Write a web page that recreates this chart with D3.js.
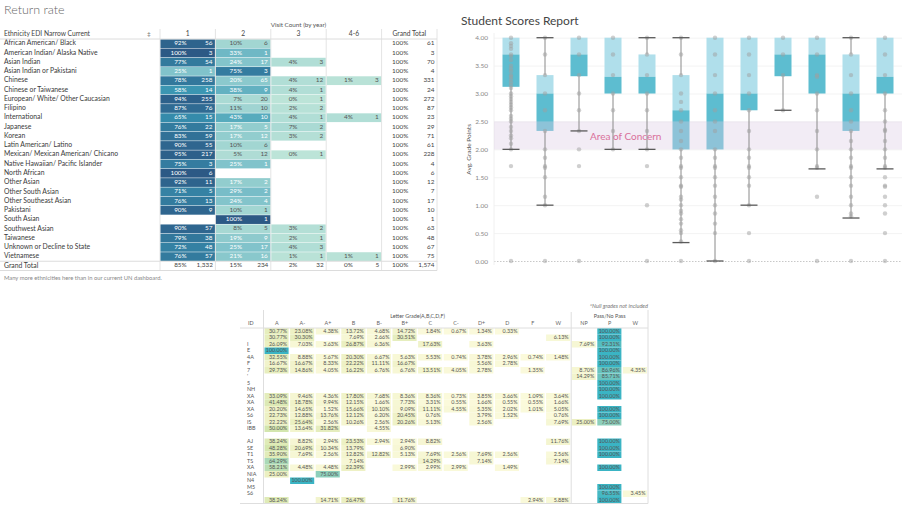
<!DOCTYPE html>
<html>
<head>
<meta charset="utf-8">
<script src="https://cdn.jsdelivr.net/npm/d3@7"></script>
<style>
  body { margin: 0; background: #fff; }
  text { font-family: Lato, "Open Sans", sans-serif; }
</style>
</head>
<body>
<svg id="chart" width="905" height="505"></svg>
<script>
// ---------- Return rate table data ----------
var ethnicities = ["African American/ Black", "American Indian/ Alaska Native", "Asian Indian",
  "Asian Indian or Pakistani", "Chinese", "Chinese or Taiwanese", "European/ White/ Other Caucasian",
  "Filipino", "International", "Japanese", "Korean", "Latin American/ Latino",
  "Mexican/ Mexican American/ Chicano", "Native Hawaiian/ Pacific Islander", "North African",
  "Other Asian", "Other South Asian", "Other Southeast Asian", "Pakistani", "South Asian",
  "Southwest Asian", "Taiwanese", "Unknown or Decline to State", "Vietnamese"];
var visitCols = ["1", "2", "3", "4-6"];
var pct1 = [92, 100, 77, 25, 78, 58, 94, 87, 65, 76, 83, 90, 95, 75, 100, 92, 71, 76, 90, null, 90, 79, 72, 76];
var cnt1 = [56, 3, 54, 1, 258, 14, 255, 76, 15, 22, 59, 55, 217, 3, 6, 11, 5, 13, 9, null, 57, 38, 48, 57];
var pct2 = [10, 33, 24, 75, 20, 38, 7, 11, 43, 17, 17, 10, 5, 25, null, 17, 29, 24, 10, 100, 8, 19, 25, 21];
var cnt2 = [6, 1, 17, 3, 65, 9, 20, 10, 10, 5, 12, 6, 12, 1, null, 2, 2, 4, 1, 1, 5, 9, 17, 16];
var pct3 = [null, null, 4, null, 4, 4, 0, 2, 4, 7, 3, null, 0, null, null, null, null, null, null, null, 3, 2, 4, 1];
var cnt3 = [null, null, 3, null, 12, 1, 1, 2, 1, 2, 2, null, 1, null, null, null, null, null, null, null, 2, 1, 3, 1];
var pct4 = [null, null, null, null, 1, null, null, null, 4, null, null, null, null, null, null, null, null, null, null, null, null, null, null, 1];
var cnt4 = [null, null, null, null, 3, null, null, null, 1, null, null, null, null, null, null, null, null, null, null, null, null, null, null, 1];
var rowTotals = [61, 3, 70, 4, 331, 24, 272, 87, 23, 29, 71, 61, 228, 4, 6, 12, 7, 17, 10, 1, 63, 48, 67, 75];
var grandPct = [85, 15, 2, 0];
var grandCnt = [1332, 234, 32, 5];
var grandTotal = 1574;

// ---------- Student scores box plot data ----------
var boxQ1  = [3.12, 2.33, 3.31, 3.0, 3.0, 2.0, 2.0, 2.7, 3.31, 3.0, 2.33, 3.0];
var boxMed = [3.7, 3.0, 3.7, 3.3, 3.3, 2.7, 3.0, 3.0, 3.7, 3.7, 3.0, 3.3];
var boxQ3  = [4.0, 3.33, 4.0, 4.0, 3.7, 3.33, 4.0, 4.0, 4.0, 4.0, 3.7, 4.0];
var whiskLo = [2.0, 1.0, 2.33, 2.0, 2.0, 0.33, 0.0, 1.0, 2.7, 1.65, 0.77, 1.65];
var whiskHi = [4.0, 4.0, 4.0, 4.0, 4.0, 4.0, 4.0, 4.0, 4.0, 4.0, 4.0, 4.0];
var boxDots = [
  [4.0, 3.9, 3.85, 3.8, 3.7, 3.67, 3.6, 3.5, 3.45, 3.4, 3.33, 3.3, 3.25, 3.2, 3.15, 3.1, 3.0, 2.95, 2.9, 2.85, 2.8, 2.75, 2.7, 2.6, 2.55, 2.5, 2.4, 2.33, 2.25, 2.2, 2.1, 2.0, 1.7, 0.0],
  [4.0, 3.7, 3.33, 3.0, 2.7, 2.33, 2.0, 1.85, 1.7, 1.67, 1.5, 1.15, 1.0, 0.0],
  [4.0, 3.7, 3.33, 3.0, 2.7, 2.33, 2.0, 1.7, 0.0],
  [4.0, 3.7, 3.33, 3.0, 2.7, 2.33, 2.0],
  [4.0, 3.7, 3.33, 3.0, 2.7, 2.33, 2.0, 1.7, 1.0, 0.0],
  [4.0, 3.7, 3.33, 3.0, 2.85, 2.7, 2.5, 2.33, 2.15, 2.0, 1.85, 1.7, 1.67, 1.5, 1.35, 1.33, 1.15, 1.1, 1.0, 0.9, 0.85, 0.75, 0.67, 0.55, 0.5, 0.35, 0.0],
  [4.0, 3.7, 3.33, 3.0, 2.7, 2.5, 2.33, 2.0, 1.85, 1.7, 1.67, 1.5, 1.35, 1.15, 1.0, 0.85, 0.67, 0.5, 0.0],
  [4.0, 3.7, 3.33, 3.0, 2.7, 2.33, 2.0, 1.85, 1.7, 1.67, 1.5, 1.35, 1.0, 0.5, 0.0],
  [4.0, 3.7, 3.33, 2.7],
  [4.0, 3.7, 3.33, 3.3, 3.0, 2.7, 2.33, 2.0, 1.7, 1.67, 1.15, 0.0],
  [4.0, 3.7, 3.33, 3.0, 2.7, 2.5, 2.33, 2.15, 2.0, 1.85, 1.7, 1.67, 1.5, 1.35, 1.15, 1.0, 0.85, 0.8, 0.0],
  [4.0, 3.7, 3.33, 3.0, 2.7, 2.5, 2.35, 2.33, 2.15, 2.0, 1.85, 1.7, 1.67, 1.5, 1.35, 1.33, 1.15, 1.0, 0.85, 0.5, 0.0]
];
var yTicks = [0, 0.5, 1, 1.5, 2, 2.5, 3, 3.5, 4];

// ---------- Letter grade table data ----------
var letterCols = ["A", "A-", "A+", "B", "B-", "B+", "C", "C-", "D+", "D", "F", "W"];
var passCols = ["NP", "P", "W"];
var gradeIds = ["", "", "I", "E", "4A", "F", "7", "'", "5", "NH", "XA", "XA", "XA", "S6", "IS", "IBB", "",
  "AJ", "SE", "T1", "TS", "XA", "NIA", "N4", "M5", "S6", ""];
var letterPct = [
  [30.77, 23.08, 4.38, 13.72, 4.68, 14.72, 1.84, 0.67, 1.34, 0.33, null, null],
  [30.77, 30.30, null, 7.69, 2.66, 30.51, null, null, null, null, null, 6.13],
  [26.09, 7.03, 3.63, 26.87, 6.36, null, 17.63, null, 3.63, null, null, null],
  [100, null, null, null, null, null, null, null, null, null, null, null],
  [32.55, 8.88, 5.67, 20.30, 6.67, 5.63, 5.53, 0.74, 3.78, 2.96, 0.74, 1.48],
  [16.67, 16.67, 8.33, 22.22, 11.11, 16.67, null, null, 5.56, 2.78, null, null],
  [29.73, 14.86, 4.05, 16.22, 6.76, 6.76, 13.51, 4.05, 2.78, null, 1.35, null],
  [], [], [],
  [33.09, 9.46, 4.36, 17.80, 7.68, 8.36, 8.36, 0.73, 3.85, 3.66, 1.09, 3.64],
  [41.48, 18.78, 9.94, 12.15, 1.66, 7.73, 3.31, 0.55, 1.66, 0.55, 0.55, 1.66],
  [20.20, 14.65, 1.52, 15.66, 10.10, 9.09, 11.11, 4.55, 5.35, 2.02, 1.01, 5.05],
  [22.73, 12.88, 13.76, 12.12, 6.20, 20.45, 0.76, null, 3.79, 1.52, null, 0.76],
  [22.22, 25.64, 2.56, 10.26, 2.56, 20.26, 5.13, null, 2.56, null, null, 7.69],
  [50.00, 13.64, 31.82, null, 4.55, null, null, null, null, null, null, null],
  [],
  [38.24, 8.82, 2.94, 23.53, 2.94, 2.94, 8.82, null, null, null, null, 11.76],
  [48.28, 20.69, 10.34, 13.79, null, 6.90, null, null, null, null, null, null],
  [35.90, 7.69, 2.56, 12.82, 12.82, 5.13, 7.69, 2.56, 7.69, 2.56, null, 2.56],
  [64.29, null, null, 7.14, null, null, 14.29, null, 7.14, null, null, 7.14],
  [58.21, 4.48, 4.48, 22.39, null, 2.99, 2.99, 2.99, null, 1.49, null, null],
  [25.00, null, 75.00, null, null, null, null, null, null, null, null, null],
  [null, 100, null, null, null, null, null, null, null, null, null, null],
  [], [],
  [38.24, null, 14.71, 26.47, null, 11.76, null, null, null, null, 2.94, 5.88]
];
var passPct = [
  [null, 100, null], [null, 100, null], [7.69, 92.31, null], [null, 100, null], [null, 100, null],
  [null, 100, null], [8.70, 86.96, 4.35], [14.29, 85.71, null], [null, 100, null], [null, 100, null],
  [null, 100, null], [], [null, 100, null], [null, 100, null], [25.00, 75.00, null], [], [],
  [null, 100, null], [null, 100, null], [null, 100, null], [], [null, 100, null], [], [],
  [null, 100, null], [null, 96.55, 3.45], [null, 100, null]
];

var svg = d3.select("#chart");

// ================= Return rate table =================
svg.append("text").attr("x", 4).attr("y", 14).text("Return rate")
  .attr("font-size", "12.5px").attr("font-weight", 300).attr("fill", "#666");

var rowKeys = ethnicities.concat(["Grand Total"]);
var ty = d3.scaleBand().domain(rowKeys).range([39, 270.5]);
var gx = d3.scaleBand().domain(visitCols.concat(["Grand Total"])).range([160, 437]);
var sx = d3.scaleBand().domain(["pct", "cnt"]).range([0, gx.bandwidth()]);
var blueTeal = d3.piecewise(d3.interpolateRgb, ["#bce4d8", "#aedcd5", "#a1d5d2", "#95cecf", "#89c8cc",
  "#7ec1ca", "#72bac6", "#66b2c2", "#59acbe", "#4ba5ba", "#419eb6", "#3b96b2", "#358ead", "#3586a7",
  "#347ea1", "#32779b", "#316f96", "#2f6790", "#2d608a", "#2c5985"]);
var fmtInt = d3.format(",");

var pctCols = [pct1, pct2, pct3, pct4];
var cntCols = [cnt1, cnt2, cnt3, cnt4];

// header
svg.append("text").attr("x", (160 + 437) / 2).attr("y", 25).attr("text-anchor", "middle")
  .attr("dominant-baseline", "middle").attr("font-size", "6.3px").attr("fill", "#555")
  .text("Visit Count (by year)");
svg.append("text").attr("x", 4).attr("y", 34.3).attr("dominant-baseline", "middle")
  .attr("font-size", "6.7px").attr("fill", "#444").text("Ethnicity EDI Narrow Current");
svg.append("text").attr("x", 149).attr("y", 34.3).attr("dominant-baseline", "middle")
  .attr("text-anchor", "middle").attr("font-size", "6.5px").attr("fill", "#777").text("‡");
svg.selectAll("text.vchead")
  .data(visitCols.concat(["Grand Total"]))
  .enter().append("text")
    .attr("class", "vchead")
    .attr("x", function (d) { return gx(d) + gx.bandwidth() / 2; })
    .attr("y", 34.3)
    .attr("dominant-baseline", "middle")
    .attr("text-anchor", "middle")
    .attr("font-size", "6.7px")
    .attr("fill", "#444")
    .text(function (d) { return d; });

// vertical separators
svg.selectAll("line.vsep")
  .data(visitCols.concat(["Grand Total", "end"]))
  .enter().append("line")
    .attr("class", "vsep")
    .attr("x1", function (d) { return d === "end" ? 437 : gx(d); })
    .attr("x2", function (d) { return d === "end" ? 437 : gx(d); })
    .attr("y1", 29).attr("y2", 270.5)
    .style("stroke", "#e4e4e4").style("stroke-width", 1);

// colored cells
visitCols.forEach(function (col, j) {
  var cells = ethnicities.map(function (e, i) {
    return { eth: e, pct: pctCols[j][i], cnt: cntCols[j][i] };
  }).filter(function (d) { return d.pct !== null; });

  svg.selectAll("rect.cell" + j)
    .data(cells)
    .enter().append("rect")
      .attr("x", gx(col) + 0.5)
      .attr("y", function (d) { return ty(d.eth) + 0.25; })
      .attr("width", gx.bandwidth() - 1)
      .attr("height", ty.bandwidth() - 0.5)
      .attr("fill", function (d) { return blueTeal(d.pct / 100); });

  svg.selectAll("text.pct" + j)
    .data(cells)
    .enter().append("text")
      .attr("x", gx(col) + sx("pct") + sx.bandwidth() - 1)
      .attr("y", function (d) { return ty(d.eth) + ty.bandwidth() / 2; })
      .attr("dominant-baseline", "middle").attr("text-anchor", "end")
      .attr("font-size", "6.4px")
      .attr("fill", function (d) { return d.pct >= 15 ? "#fff" : "#555"; })
      .text(function (d) { return d.pct + "%"; });

  svg.selectAll("text.cnt" + j)
    .data(cells)
    .enter().append("text")
      .attr("x", gx(col) + gx.bandwidth() - 3)
      .attr("y", function (d) { return ty(d.eth) + ty.bandwidth() / 2; })
      .attr("dominant-baseline", "middle").attr("text-anchor", "end")
      .attr("font-size", "6.4px")
      .attr("fill", function (d) { return d.pct >= 15 ? "#fff" : "#555"; })
      .text(function (d) { return fmtInt(d.cnt); });
});

// row labels
svg.selectAll("text.eth")
  .data(rowKeys)
  .enter().append("text")
    .attr("x", 4)
    .attr("y", function (d) { return ty(d) + ty.bandwidth() / 2; })
    .attr("dominant-baseline", "middle")
    .attr("font-size", "6.8px")
    .attr("fill", "#3a3a3a")
    .text(function (d) { return d; });

// grand total column
svg.selectAll("text.gtp")
  .data(ethnicities)
  .enter().append("text")
    .attr("x", gx("Grand Total") + sx.bandwidth() - 1)
    .attr("y", function (d) { return ty(d) + ty.bandwidth() / 2; })
    .attr("dominant-baseline", "middle").attr("text-anchor", "end")
    .attr("font-size", "6.4px").attr("fill", "#444")
    .text("100%");
svg.selectAll("text.gtc")
  .data(ethnicities)
  .enter().append("text")
    .attr("x", gx("Grand Total") + gx.bandwidth() - 2.5)
    .attr("y", function (d) { return ty(d) + ty.bandwidth() / 2; })
    .attr("dominant-baseline", "middle").attr("text-anchor", "end")
    .attr("font-size", "6.4px").attr("fill", "#444")
    .text(function (d, i) { return fmtInt(rowTotals[i]); });

// grand total row
var gtY = ty("Grand Total") + ty.bandwidth() / 2;
svg.selectAll("text.gtrp")
  .data(visitCols.concat(["Grand Total"]))
  .enter().append("text")
    .attr("x", function (d) { return gx(d) + sx.bandwidth() - 1; })
    .attr("y", gtY)
    .attr("dominant-baseline", "middle").attr("text-anchor", "end")
    .attr("font-size", "6.4px").attr("fill", "#444")
    .text(function (d, i) { return (i < 4 ? grandPct[i] : 100) + "%"; });
svg.selectAll("text.gtrc")
  .data(visitCols.concat(["Grand Total"]))
  .enter().append("text")
    .attr("x", function (d) { return gx(d) + gx.bandwidth() - 2.5; })
    .attr("y", gtY)
    .attr("dominant-baseline", "middle").attr("text-anchor", "end")
    .attr("font-size", "6.4px").attr("fill", "#444")
    .text(function (d, i) { return fmtInt(i < 4 ? grandCnt[i] : grandTotal); });

[39, ty("Grand Total"), 270.5].forEach(function (yy) {
  svg.append("line").attr("x1", 0).attr("x2", 437).attr("y1", yy).attr("y2", yy)
    .style("stroke", "#dcdcdc").style("stroke-width", 1);
});

svg.append("text").attr("x", 4).attr("y", 278.5).attr("dominant-baseline", "middle")
  .attr("font-size", "5.8px").attr("fill", "#888")
  .text("Many more ethnicities here than in our current UN dashboard.");

// ================= Student Scores box plot =================
svg.append("text").attr("x", 461).attr("y", 25).text("Student Scores Report")
  .attr("font-size", "12px").attr("fill", "#444");

var bx = d3.scaleBand().domain(d3.range(12)).range([494, 902]);
var by = d3.scaleLinear().domain([0, 4]).range([261, 37.7]);
var boxW = bx.bandwidth() * 0.5;

svg.append("g")
  .attr("transform", "translate(494,0)")
  .call(d3.axisLeft(by).tickValues(yTicks).tickSize(-408).tickFormat(""))
  .call(function (g) {
    g.select(".domain").remove();
    g.selectAll(".tick line").style("stroke", "#f3f3f3");
    g.selectAll(".tick").filter(function (d) { return d === 0; }).select("line")
      .style("stroke", "#c8c8c8").style("stroke-dasharray", "1.5,1.5");
  });

svg.append("g")
  .attr("transform", "translate(488,0)")
  .call(d3.axisLeft(by).tickValues(yTicks).tickSize(0).tickFormat(d3.format(".2f")))
  .call(function (g) {
    g.select(".domain").remove();
    g.selectAll("text").attr("font-size", "6.5px").attr("fill", "#888")
      .style("font-family", "Lato, 'Open Sans', sans-serif").attr("x", 0);
  });

svg.append("line").attr("x1", 494).attr("x2", 494).attr("y1", 33).attr("y2", 265)
  .style("stroke", "#f0f0f0");

svg.append("text")
  .attr("transform", "translate(469," + by(2) + ") rotate(-90)")
  .attr("text-anchor", "middle").attr("dominant-baseline", "middle")
  .attr("font-size", "6.5px").attr("fill", "#555")
  .text("Avg. Grade Points");

var boxes = d3.range(12).map(function (i) {
  return { i: i, q1: boxQ1[i], med: boxMed[i], q3: boxQ3[i], lo: whiskLo[i], hi: whiskHi[i], dots: boxDots[i] };
});

// upper (median-Q3) and lower (Q1-median) box segments
svg.selectAll("rect.upper")
  .data(boxes)
  .enter().append("rect")
    .attr("x", function (d) { return bx(d.i) + (bx.bandwidth() - boxW) / 2; })
    .attr("y", function (d) { return by(d.q3); })
    .attr("width", boxW)
    .attr("height", function (d) { return by(d.med) - by(d.q3); })
    .attr("fill", "#b0dfeb");
svg.selectAll("rect.lower")
  .data(boxes)
  .enter().append("rect")
    .attr("x", function (d) { return bx(d.i) + (bx.bandwidth() - boxW) / 2; })
    .attr("y", function (d) { return by(d.med); })
    .attr("width", boxW)
    .attr("height", function (d) { return by(d.q1) - by(d.med); })
    .attr("fill", "#5dbdd0");

// area of concern band
svg.append("rect")
  .attr("x", 494).attr("width", 408)
  .attr("y", by(2.5)).attr("height", by(2.0) - by(2.5))
  .attr("fill", "rgb(220,205,228)").attr("fill-opacity", 0.38);

// whiskers
svg.selectAll("line.wlo")
  .data(boxes)
  .enter().append("line")
    .attr("x1", function (d) { return bx(d.i) + bx.bandwidth() / 2; })
    .attr("x2", function (d) { return bx(d.i) + bx.bandwidth() / 2; })
    .attr("y1", function (d) { return by(d.q1); })
    .attr("y2", function (d) { return by(d.lo); })
    .style("stroke", "#8a8a8a").style("stroke-width", 1);
svg.selectAll("line.whi")
  .data(boxes)
  .enter().append("line")
    .attr("x1", function (d) { return bx(d.i) + bx.bandwidth() / 2; })
    .attr("x2", function (d) { return bx(d.i) + bx.bandwidth() / 2; })
    .attr("y1", function (d) { return by(d.q3); })
    .attr("y2", function (d) { return by(d.hi); })
    .style("stroke", "#8a8a8a").style("stroke-width", 1);

// dots
boxes.forEach(function (b) {
  svg.selectAll("circle.dot" + b.i)
    .data(b.dots)
    .enter().append("circle")
      .attr("cx", bx(b.i) + bx.bandwidth() / 2)
      .attr("cy", function (d) { return by(d); })
      .attr("r", 2.2)
      .attr("fill", "#a0a0a0")
      .attr("fill-opacity", 0.5);
});

// caps
var caps = [];
boxes.forEach(function (b) {
  if (b.lo < b.q1) caps.push({ i: b.i, v: b.lo });
  if (b.hi > b.q3) caps.push({ i: b.i, v: b.hi });
});
svg.selectAll("line.cap")
  .data(caps)
  .enter().append("line")
    .attr("x1", function (d) { return bx(d.i) + (bx.bandwidth() - boxW) / 2; })
    .attr("x2", function (d) { return bx(d.i) + (bx.bandwidth() + boxW) / 2; })
    .attr("y1", function (d) { return by(d.v); })
    .attr("y2", function (d) { return by(d.v); })
    .style("stroke", "#5a5a5a").style("stroke-width", 1.3);

svg.append("text").attr("x", 590).attr("y", by(2.22))
  .attr("dominant-baseline", "middle")
  .attr("font-size", "10px").attr("fill", "#d9709a")
  .text("Area of Concern");

// ================= Letter grade table =================
var allCols = letterCols.map(function (c, j) { return "L" + j; })
  .concat(passCols.map(function (c, j) { return "P" + j; }));
var allLabels = letterCols.concat(passCols);
var lx = d3.scaleBand().domain(allCols).range([264, 648]);
var ly = d3.scaleBand().domain(d3.range(gradeIds.length)).range([328, 503.5]);
var gradeColour = d3.scaleLinear()
  .domain([0, 25, 50, 65, 80, 100])
  .range(["#fbfadc", "#ecf0c2", "#d3e6ae", "#a8d8b8", "#80cbbd", "#3ab4c4"])
  .interpolate(d3.interpolateRgb);
var fmtPct = function (v) { return d3.format(".2f")(v) + "%"; };

var gradeCells = [];
gradeIds.forEach(function (id, i) {
  letterCols.forEach(function (c, j) {
    var v = letterPct[i][j];
    if (v !== null && v !== undefined) gradeCells.push({ row: i, col: "L" + j, v: v });
  });
  passCols.forEach(function (c, j) {
    var v = passPct[i][j];
    if (v !== null && v !== undefined) gradeCells.push({ row: i, col: "P" + j, v: v });
  });
});

svg.selectAll("rect.gcell")
  .data(gradeCells)
  .enter().append("rect")
    .attr("x", function (d) { return lx(d.col) + 0.5; })
    .attr("y", function (d) { return ly(d.row); })
    .attr("width", lx.bandwidth() - 1.5)
    .attr("height", ly.bandwidth())
    .attr("fill", function (d) { return gradeColour(d.v); });

svg.selectAll("text.gval")
  .data(gradeCells)
  .enter().append("text")
    .attr("x", function (d) { return lx(d.col) + lx.bandwidth() - 2.5; })
    .attr("y", function (d) { return ly(d.row) + ly.bandwidth() / 2; })
    .attr("dominant-baseline", "middle").attr("text-anchor", "end")
    .attr("font-size", "5.4px").attr("fill", "#555")
    .text(function (d) { return fmtPct(d.v); });

svg.selectAll("text.gid")
  .data(gradeIds)
  .enter().append("text")
    .attr("x", 247)
    .attr("y", function (d, i) { return ly(i) + ly.bandwidth() / 2; })
    .attr("dominant-baseline", "middle")
    .attr("font-size", "5.4px").attr("fill", "#555")
    .text(function (d) { return d; });

svg.selectAll("text.ghead")
  .data(allCols)
  .enter().append("text")
    .attr("x", function (d) { return lx(d) + lx.bandwidth() / 2; })
    .attr("y", 324)
    .attr("dominant-baseline", "middle").attr("text-anchor", "middle")
    .attr("font-size", "5.4px").attr("fill", "#666")
    .text(function (d, i) { return allLabels[i]; });

svg.append("text").attr("x", 248).attr("y", 324).attr("dominant-baseline", "middle")
  .attr("font-size", "5.4px").attr("fill", "#555").text("ID");
svg.append("text").attr("x", (lx("L0") + lx("P0")) / 2).attr("y", 316.5)
  .attr("dominant-baseline", "middle").attr("text-anchor", "middle")
  .attr("font-size", "5.4px").attr("fill", "#555").text("Letter Grade(A,B,C,D,F)");
svg.append("text").attr("x", (lx("P0") + 648) / 2).attr("y", 317)
  .attr("dominant-baseline", "middle").attr("text-anchor", "middle")
  .attr("font-size", "5.4px").attr("fill", "#555").text("Pass/No Pass");
svg.append("text").attr("x", 648).attr("y", 307)
  .attr("dominant-baseline", "middle").attr("text-anchor", "end")
  .attr("font-size", "5.6px").attr("font-style", "italic").attr("fill", "#777")
  .text("*Null grades not included");

[263.5, lx("P0"), 648].forEach(function (xx, k) {
  svg.append("line").attr("x1", xx).attr("x2", xx).attr("y1", k === 1 ? 312 : 310).attr("y2", 503.5)
    .style("stroke", "#dedede").style("stroke-width", 1);
});
[328, 503.5].forEach(function (yy) {
  svg.append("line").attr("x1", 240).attr("x2", 648).attr("y1", yy).attr("y2", yy)
    .style("stroke", "#dedede").style("stroke-width", 1);
});
</script>
</body>
</html>
